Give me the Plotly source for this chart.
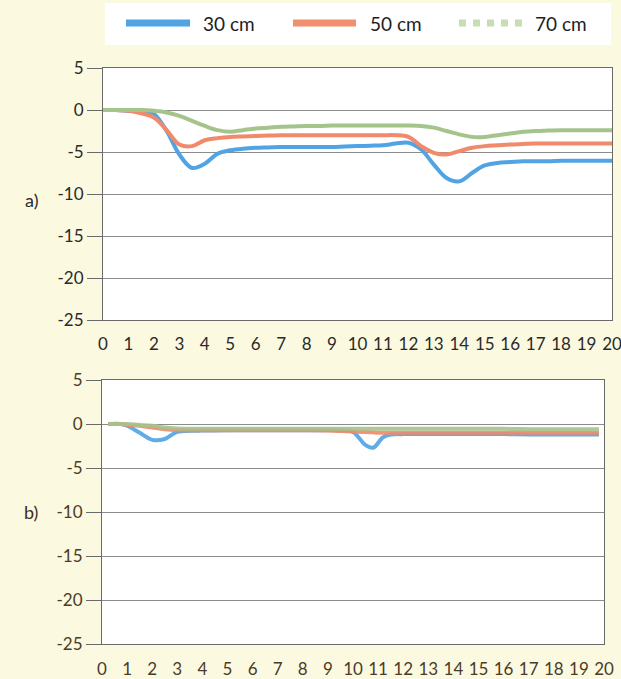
import plotly.graph_objects as go

# ---------------- data ----------------
x_top = [i * 0.5 for i in range(41)]  # 0 .. 20
top_30 = [0, 0, -0.1, -0.2, -0.5, -2.5, -5.3, -6.9, -6.4, -5.2, -4.8, -4.6, -4.5, -4.45, -4.4, -4.4,
          -4.4, -4.4, -4.4, -4.35, -4.3, -4.25, -4.2, -4.0, -3.9, -4.7, -6.5, -8.1, -8.5, -7.5, -6.6,
          -6.3, -6.2, -6.1, -6.1, -6.1, -6.05, -6.05, -6.05, -6.05, -6.05]
top_50 = [0, 0, -0.1, -0.4, -0.9, -2.4, -4.1, -4.3, -3.6, -3.35, -3.2, -3.15, -3.1, -3.05, -3.0, -3.0,
          -3.0, -3.0, -3.0, -3.0, -3.0, -3.0, -3.0, -3.0, -3.2, -4.3, -5.1, -5.3, -4.9, -4.5, -4.3,
          -4.2, -4.1, -4.05, -4.0, -4.0, -4.0, -4.0, -4.0, -4.0, -4.0]
top_70 = [0, 0, 0, 0, -0.1, -0.3, -0.7, -1.3, -1.9, -2.4, -2.6, -2.4, -2.2, -2.1, -2.0, -1.95,
          -1.9, -1.9, -1.85, -1.85, -1.85, -1.85, -1.85, -1.85, -1.85, -1.9, -2.1, -2.5, -2.9, -3.2, -3.2,
          -3.0, -2.8, -2.6, -2.5, -2.45, -2.4, -2.4, -2.4, -2.4, -2.4]

x_bot = [0.25, 0.75, 1.0, 1.5, 2.0, 2.5, 3.0, 4.0, 5.0, 6.0, 7.0, 8.0, 9.0, 9.5, 10.0, 10.5, 10.8,
         11.2, 11.5, 12.0, 13.0, 14.0, 15.0, 16.0, 17.0, 18.0, 19.0, 19.8]
bot_30 = [0, 0, -0.2, -1.0, -1.8, -1.7, -0.9, -0.75, -0.7, -0.7, -0.7, -0.7, -0.7, -0.7, -0.9, -2.4,
          -2.7, -1.5, -1.2, -1.15, -1.15, -1.15, -1.15, -1.15, -1.2, -1.2, -1.2, -1.2]
bot_50 = [0, 0, -0.1, -0.2, -0.4, -0.6, -0.7, -0.7, -0.7, -0.7, -0.7, -0.7, -0.75, -0.8, -0.85, -0.9,
          -0.95, -1.0, -1.0, -1.0, -1.0, -1.0, -1.0, -1.0, -1.0, -1.0, -1.0, -1.0]
bot_70 = [0, 0, 0, -0.1, -0.2, -0.4, -0.5, -0.55, -0.55, -0.55, -0.55, -0.55, -0.55, -0.55, -0.55, -0.55,
          -0.55, -0.55, -0.55, -0.55, -0.55, -0.55, -0.55, -0.55, -0.6, -0.6, -0.6, -0.6]

series_names = ["30 cm", "50 cm", "70 cm"]
x_ticks = list(range(0, 21))
y_ticks = [5, 0, -5, -10, -15, -20, -25]
panel_labels = ["a)", "b)"]

# ---------------- style ----------------
W, H = 621, 679
colors = ["#50a4e4", "#f08a6a", "#a5c48c"]
legend_colors = ["#50a4e4", "#f0906f", "#c8ddb4"]
font = "Lato, 'Open Sans', sans-serif"
bg = "#fbf9e0"


def px(x):
    return x / W


def py(y):
    return 1 - y / H


fig = go.Figure()

for ys, c in zip([top_30, top_50, top_70], colors):
    fig.add_trace(go.Scatter(x=x_top, y=ys, mode="lines", line=dict(color=c, width=4, shape="spline"),
                             xaxis="x", yaxis="y", showlegend=False))
for ys, c in zip([bot_30, bot_50, bot_70], colors):
    fig.add_trace(go.Scatter(x=x_bot, y=ys, mode="lines", line=dict(color=c, width=4, shape="spline"),
                             xaxis="x2", yaxis="y2", showlegend=False, opacity=0.9))

common_x = dict(range=[0, 20], tickvals=x_ticks, ticktext=[str(v) for v in x_ticks], showgrid=False,
                zeroline=False, showline=True, mirror=True, linecolor="#6a6a6a", linewidth=1,
                ticks="", automargin=False, ticklabeloverflow="allow")
common_y = dict(range=[-25, 5], tickvals=y_ticks, ticktext=[str(v) for v in y_ticks], showgrid=True,
                gridcolor="#8c8c8c", gridwidth=1, zeroline=False, showline=True, mirror=True,
                linecolor="#6a6a6a", linewidth=1, ticks="outside", ticklen=15, tickcolor="#6a6a6a",
                tickwidth=1, automargin=False)

fig.update_layout(
    width=W, height=H,
    margin=dict(l=0, r=0, t=0, b=0),
    paper_bgcolor=bg, plot_bgcolor="white",
    xaxis=dict(common_x, domain=[px(103), px(612)], anchor="y", ticklabelstandoff=9,
               tickfont=dict(family=font, size=17, color="#2a2a2a")),
    yaxis=dict(common_y, domain=[py(320), py(68)], anchor="x",
               tickfont=dict(family=font, size=17, color="#2a2a2a")),
    xaxis2=dict(common_x, domain=[px(102), px(604)], anchor="y2", ticklabelstandoff=10,
                tickfont=dict(family=font, size=17, color="#4a3c28")),
    yaxis2=dict(common_y, domain=[py(644), py(380)], anchor="x2",
                tickfont=dict(family=font, size=17, color="#4a3c28")),
    showlegend=False,
)

# legend box
shapes = [dict(type="rect", xref="paper", yref="paper", x0=px(105), x1=px(611), y0=py(45), y1=py(3),
               fillcolor="white", line=dict(width=0), layer="below")]
leg_x = [(126, 190, 201), (293, 356, 368), (459, 523, 533)]
annotations = []
for (x0, x1, xt), name, c, i in zip(leg_x, series_names, legend_colors, range(3)):
    shapes.append(dict(type="line", xref="paper", yref="paper", x0=px(x0), x1=px(x1), y0=py(23), y1=py(23),
                       line=dict(color=c, width=7, dash="dot" if i == 2 else "solid")))
    annotations.append(dict(xref="paper", yref="paper", x=px(xt), y=py(24), text=name, showarrow=False,
                            xanchor="left", yanchor="middle",
                            font=dict(family=font, size=19, color="#1e1e1e")))

for lab, yy, col in zip(panel_labels, [200, 512], ["#2a2a2a", "#3a3020"]):
    annotations.append(dict(xref="paper", yref="paper", x=px(31), y=py(yy), text=lab, showarrow=False,
                            xanchor="center", yanchor="middle", font=dict(family=font, size=18, color=col)))

fig.update_layout(shapes=shapes, annotations=annotations)

fig.write_html("out.html", config={"displayModeBar": False},
               post_script="document.body.style.margin='0';document.body.style.overflow='hidden';")
